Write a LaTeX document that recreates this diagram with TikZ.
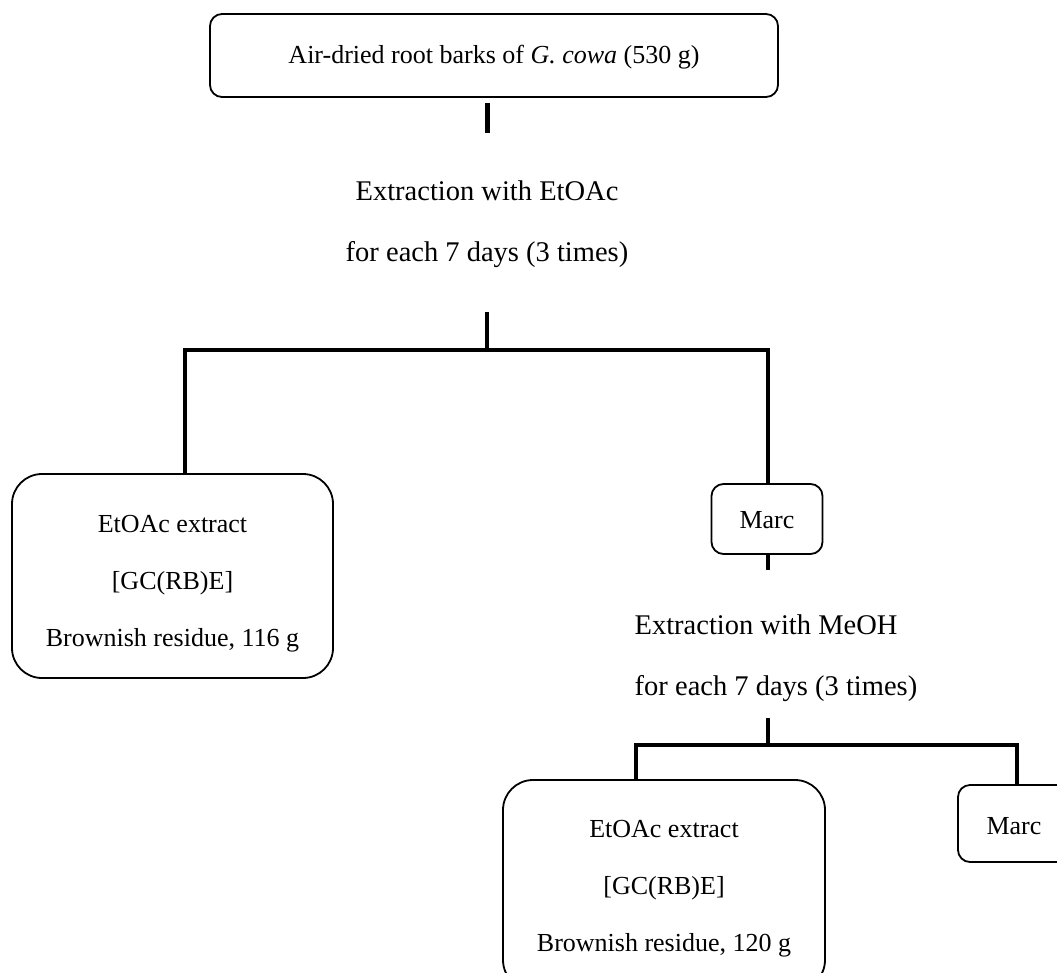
\documentclass[tikz,border=0pt]{standalone}
\usepackage{fontspec}
\setmainfont{Liberation Serif}
\newcommand{\dn}[2]{\raisebox{-#1pt}[\height][\depth]{\begin{tabular}{@{}c@{}}#2\end{tabular}}}
\begin{document}
\begin{tikzpicture}[x=1pt,y=-1pt,
  box/.style={draw,line width=1.8pt,rounded corners=#1,inner sep=0pt,align=center,font=\fontsize{26}{31}\selectfont},
  box/.default=12pt,
  lbl/.style={inner sep=0pt,font=\fontsize{28.5}{34}\selectfont},
  conn/.style={line width=4pt}]
\clip (0,0) rectangle (1057,972);
\useasboundingbox (0,0) rectangle (1057,972);
\node[box,minimum width=568pt,minimum height=83pt] (top) at (494,55.5) {\dn{2}{Air-dried root barks of \textit{G. cowa} (530 g)}};
\coordinate (a1) at (487,103);
\coordinate (a2) at (487,133);
\node[lbl] (ex1) at (487,191) {Extraction with EtOAc};
\node[lbl] (ex1b) at (487,255) {for each 7 days (3 times)};
\coordinate (b1) at (487,312);
\coordinate (j1) at (487,350);
\coordinate (jl) at (185,350);
\coordinate (jr) at (768,350);
\node[box=30pt,minimum width=321pt,minimum height=204pt] (lbox) at (172.5,576) {\dn{7}{EtOAc extract\\[26pt][GC(RB)E]\\[26pt]Brownish residue, 116 g}};
\node[box,minimum width=111pt,minimum height=70pt] (marc1) at (767,519) {\dn{3}{Marc}};
\coordinate (m1) at (768,570);
\node[lbl] (ex2) at (766,625) {Extraction with MeOH};
\node[lbl] (ex2b) at (776,689) {for each 7 days (3 times)};
\coordinate (b2) at (768,718);
\coordinate (j2) at (768,745);
\coordinate (j2l) at (636,745);
\coordinate (j2r) at (1017,745);
\node[box=30pt,minimum width=322pt,minimum height=210pt] (rbox) at (664,885) {\dn{3}{EtOAc extract\\[26pt][GC(RB)E]\\[26pt]Brownish residue, 120 g}};
\node[box,minimum width=112pt,minimum height=77pt] (marc2) at (1014,823.5) {\dn{5}{Marc}};
\draw[conn,line width=5pt] (a1) -- (a2);
\draw[conn] (b1) -- (j1);
\draw[conn] (lbox.north -| jl) -- (jl) -- (jr) -- (marc1.north -| jr);
\draw[conn] (marc1.south -| m1) -- (m1);
\draw[conn] (b2) -- (j2);
\draw[conn] (rbox.north -| j2l) -- (j2l) -- (j2r) -- (marc2.north -| j2r);
\end{tikzpicture}
\end{document}
